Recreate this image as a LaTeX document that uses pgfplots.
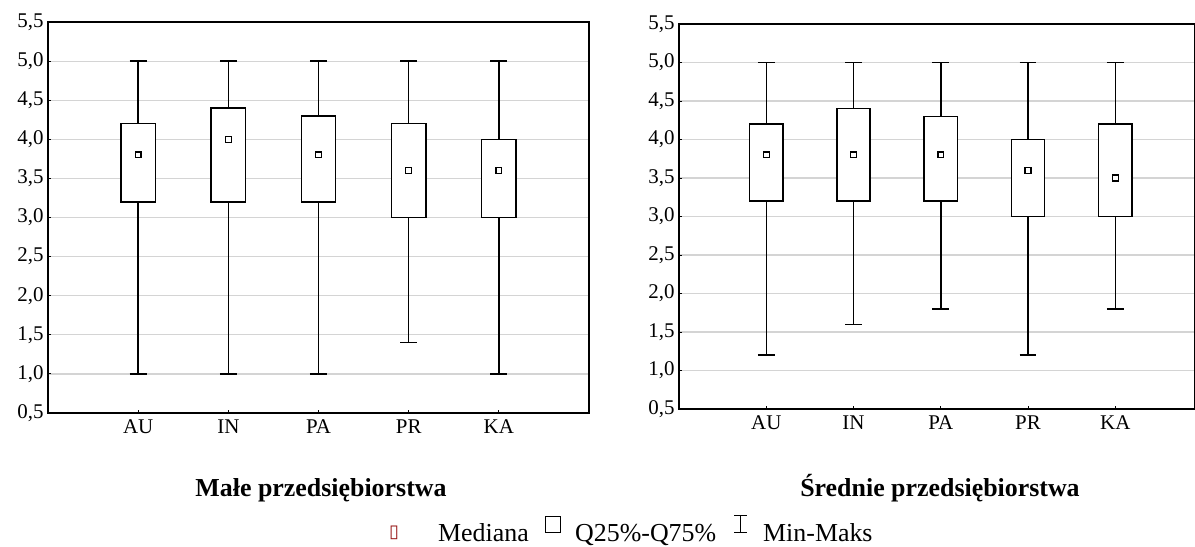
\documentclass[border=0pt]{standalone}
\usepackage{pgfplots}
\pgfplotsset{compat=1.18}
\usepgfplotslibrary{statistics}
\usepackage{fontspec}
\setmainfont{Liberation Serif}
\newfontfamily\dejavu{DejaVu Sans}
\definecolor{gridgray}{RGB}{212,212,212}
\definecolor{tofured}{RGB}{150,20,20}

\pgfplotsset{
  myaxis/.style={
    anchor=south west, scale only axis,
    ymin=0.5, ymax=5.5,
    xtick={1,2,3,4,5}, xticklabels={AU,IN,PA,PR,KA},
    ytick={0.5,1,1.5,2,2.5,3,3.5,4,4.5,5,5.5},
    /pgf/number format/.cd, fixed, fixed zerofill, precision=1, use comma, assume math mode=true,
    /pgfplots/.cd,
    ymajorgrids, grid style={draw=gridgray, line width=1.2bp},
    axis line style={line width=1.3bp},
    tick style={black, line width=0.9bp}, major tick length=3bp,
    tick align=inside, tick pos=left,
    ticklabel style={font=\fontsize{21}{25}\selectfont},
    yticklabel style={xshift=-1bp},
    xticklabel style={yshift=-3bp},
    boxplot/draw direction=y,
    boxplot/draw/median/.code={},
  },
}
% #1 position, #2 min, #3 q1, #4 q3, #5 max (medians plotted separately)
\newcommand{\bx}[5]{\addplot[boxplot prepared={draw position=#1, lower whisker=#2, lower quartile=#3, upper quartile=#4, upper whisker=#5, box extend=0.38, whisker extend=0.19}, draw=black, fill=white, line width=1.5bp, solid] coordinates {};}

\begin{document}
\begin{tikzpicture}
\useasboundingbox (0bp,0bp) rectangle (1195bp,-547bp);

\begin{axis}[myaxis, at={(48bp,-413bp)}, width=541bp, height=391bp, xmin=0, xmax=6]
\bx{1}{1.0}{3.2}{4.2}{5.0}
\bx{2}{1.0}{3.2}{4.4}{5.0}
\bx{3}{1.0}{3.2}{4.3}{5.0}
\bx{4}{1.4}{3.0}{4.2}{5.0}
\bx{5}{1.0}{3.0}{4.0}{5.0}
\addplot[only marks, mark=square*, mark size=2.9bp, mark options={fill=white, draw=black, line width=1.3bp}]
  coordinates {(1,3.8) (2,4.0) (3,3.8) (4,3.6) (5,3.6)};
\end{axis}

\begin{axis}[myaxis, at={(679bp,-409bp)}, width=516bp, height=385bp, xmin=0, xmax=5.914]
\bx{1}{1.2}{3.2}{4.2}{5.0}
\bx{2}{1.6}{3.2}{4.4}{5.0}
\bx{3}{1.8}{3.2}{4.3}{5.0}
\bx{4}{1.2}{3.0}{4.0}{5.0}
\bx{5}{1.8}{3.0}{4.2}{5.0}
\addplot[only marks, mark=square*, mark size=2.9bp, mark options={fill=white, draw=black, line width=1.3bp}]
  coordinates {(1,3.8) (2,3.8) (3,3.8) (4,3.6) (5,3.5)};
\end{axis}

\node[anchor=base, font=\fontsize{26}{30}\selectfont\bfseries, inner sep=0pt] at (321bp,-496bp) {Małe przedsiębiorstwa};
\node[anchor=base, font=\fontsize{26}{30}\selectfont\bfseries, inner sep=0pt] at (940bp,-496bp) {Średnie przedsiębiorstwa};

% legend
\node[anchor=base west, inner sep=0pt, text=tofured, font=\dejavu\fontsize{18}{20}\selectfont] at (389bp,-537bp) {▯};
\node[anchor=base west, inner sep=0pt, font=\fontsize{26}{30}\selectfont] at (438bp,-541bp) {Mediana};
\draw[line width=0.9bp] (545bp,-532bp) rectangle (560bp,-516bp);
\node[anchor=base west, inner sep=0pt, font=\fontsize{26}{30}\selectfont] at (575bp,-541bp) {Q25\%-Q75\%};
\draw[line width=0.9bp] (740.5bp,-515bp) -- (740.5bp,-532bp);
\draw[line width=0.9bp] (734bp,-515bp) -- (747bp,-515bp);
\draw[line width=0.9bp] (734bp,-532bp) -- (747bp,-532bp);
\node[anchor=base west, inner sep=0pt, font=\fontsize{26}{30}\selectfont] at (763bp,-541bp) {Min-Maks};
\end{tikzpicture}
\end{document}
